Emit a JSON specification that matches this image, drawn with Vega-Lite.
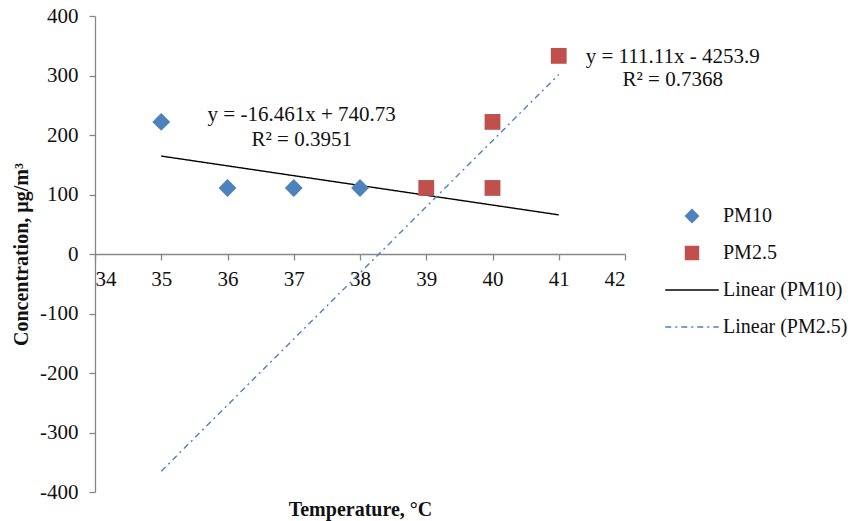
{
  "$schema": "https://vega.github.io/schema/vega-lite/v6.json",
  "autosize": "none",
  "padding": {"left": 95, "top": 16, "right": 233, "bottom": 29},
  "width": 530,
  "height": 476,
  "background": "white",
  "config": {
    "view": {"stroke": null},
    "font": "Liberation Serif",
    "axis": {
      "grid": false,
      "domainColor": "#868686",
      "tickColor": "#868686",
      "tickSize": 6,
      "domainWidth": 1.3,
      "tickWidth": 1.3,
      "labelFont": "Liberation Serif",
      "labelFontSize": 21,
      "labelColor": "#111111",
      "titleFont": "Liberation Serif",
      "titleFontSize": 20,
      "titleFontWeight": "bold",
      "titleColor": "#111111"
    },
    "legend": {
      "labelFont": "Liberation Serif",
      "labelFontSize": 20,
      "labelColor": "#111111"
    }
  },
  "datasets": {
    "points": [
      {"series": "PM10", "temp": 35, "conc": 222},
      {"series": "PM10", "temp": 36, "conc": 111},
      {"series": "PM10", "temp": 37, "conc": 111},
      {"series": "PM10", "temp": 38, "conc": 111},
      {"series": "PM2.5", "temp": 39, "conc": 111},
      {"series": "PM2.5", "temp": 40, "conc": 222},
      {"series": "PM2.5", "temp": 40, "conc": 111},
      {"series": "PM2.5", "temp": 41, "conc": 333}
    ],
    "trends": [
      {"series": "Linear (PM10)", "temp": 35, "conc": 164.6},
      {"series": "Linear (PM10)", "temp": 41, "conc": 65.8},
      {"series": "Linear (PM2.5)", "temp": 35, "conc": -365.05},
      {"series": "Linear (PM2.5)", "temp": 41, "conc": 301.6}
    ],
    "notes": [
      {"temp": 37.12, "conc": 233.6, "note": "y = -16.461x + 740.73"},
      {"temp": 37.12, "conc": 191.6, "note": "R² = 0.3951"},
      {"temp": 42.72, "conc": 331, "note": "y = 111.11x - 4253.9"},
      {"temp": 42.72, "conc": 292, "note": "R² = 0.7368"}
    ]
  },
  "encoding": {
    "x": {
      "field": "temp",
      "type": "quantitative",
      "scale": {"domain": [34, 42], "nice": false, "zero": false},
      "axis": {
        "title": "Temperature, °C",
        "orient": "bottom",
        "offset": -238,
        "values": [34, 35, 36, 37, 38, 39, 40, 41, 42],
        "labelPadding": 8,
        "titleY": 245,
        "titleBaseline": "top"
      }
    },
    "y": {
      "field": "conc",
      "type": "quantitative",
      "scale": {"domain": [-400, 400], "nice": false},
      "axis": {
        "title": "Concentration, µg/m³",
        "values": [-400, -300, -200, -100, 0, 100, 200, 300, 400],
        "labelExpr": "'' + datum.value",
        "labelPadding": 11,
        "titleX": -68,
        "titleY": 238,
        "titleAngle": 270,
        "titleAlign": "center",
        "titleBaseline": "alphabetic"
      }
    }
  },
  "layer": [
    {
      "data": {"name": "trends"},
      "mark": {"type": "line", "strokeWidth": 1.4},
      "encoding": {
        "color": {
          "field": "series",
          "type": "nominal",
          "scale": {
            "domain": ["PM10", "PM2.5", "Linear (PM10)", "Linear (PM2.5)"],
            "range": ["#4F81BD", "#C0504D", "#000000", "#4F81BD"]
          },
          "legend": {
            "title": null,
            "orient": "none",
            "legendX": 587,
            "legendY": 190,
            "symbolSize": 170,
            "symbolStrokeWidth": 1.4,
            "labelOffset": 21,
            "rowPadding": 17,
            "padding": 0
          }
        },
        "strokeDash": {
          "field": "series",
          "type": "nominal",
          "scale": {
            "domain": ["PM10", "PM2.5", "Linear (PM10)", "Linear (PM2.5)"],
            "range": [[1, 0], [1, 0], [1, 0], [6, 4, 2, 4]]
          },
          "legend": {
            "title": null,
            "orient": "none",
            "legendX": 587,
            "legendY": 190,
            "symbolSize": 170,
            "symbolStrokeWidth": 1.4,
            "labelOffset": 21,
            "rowPadding": 17,
            "padding": 0
          }
        }
      }
    },
    {
      "data": {"name": "points"},
      "mark": {"type": "point", "filled": true, "opacity": 1},
      "encoding": {
        "color": {"field": "series", "type": "nominal"},
        "shape": {
          "field": "series",
          "type": "nominal",
          "scale": {
            "domain": ["PM10", "PM2.5", "Linear (PM10)", "Linear (PM2.5)"],
            "range": ["diamond", "square", "M-4.1,0H4.1", "M-4.1,0H4.1"]
          },
          "legend": {
            "title": null,
            "orient": "none",
            "legendX": 587,
            "legendY": 190,
            "symbolSize": 170,
            "symbolStrokeWidth": 1.4,
            "labelOffset": 21,
            "rowPadding": 17,
            "padding": 0
          }
        },
        "size": {
          "field": "series",
          "type": "nominal",
          "scale": {"domain": ["PM10", "PM2.5"], "range": [320, 250]},
          "legend": null
        }
      }
    },
    {
      "data": {"name": "notes"},
      "mark": {"type": "text", "font": "Liberation Serif", "fontSize": 21, "color": "#111111", "align": "center", "baseline": "middle"},
      "encoding": {
        "text": {"field": "note", "type": "nominal"}
      }
    }
  ]
}
